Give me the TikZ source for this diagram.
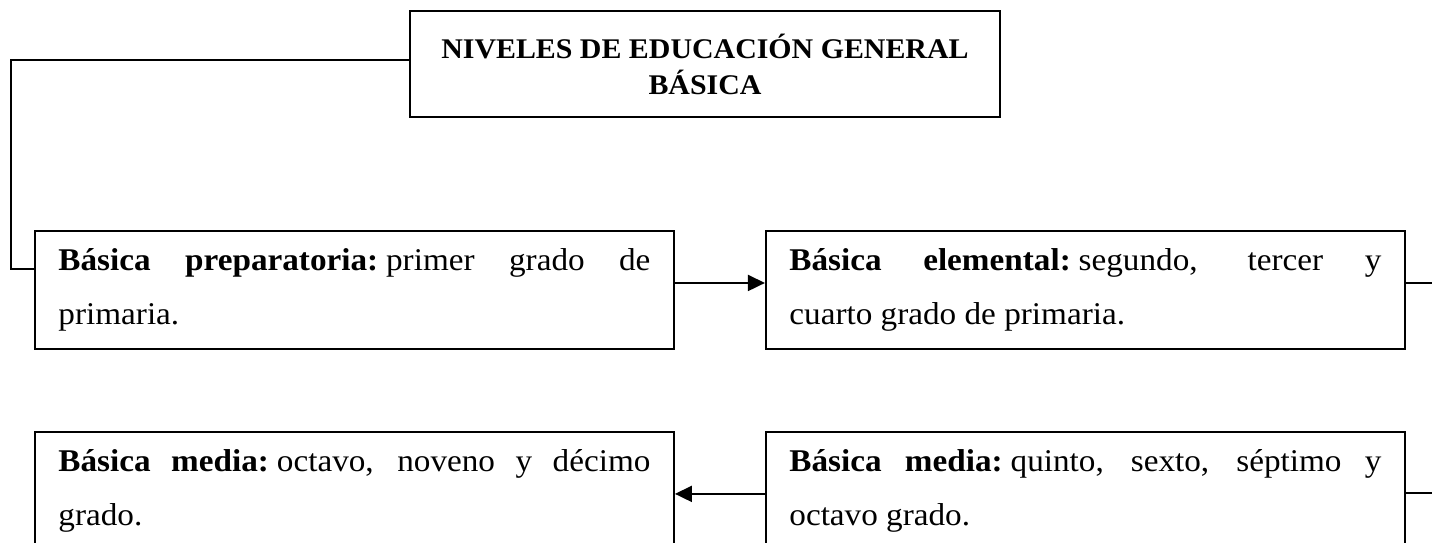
\documentclass[tikz,border=0pt]{standalone}
\usepackage{fontspec}
\setmainfont{Liberation Serif}[FakeStretch=1.05]
\usepackage{tikz}
\usetikzlibrary{arrows.meta, positioning}
\tolerance=10000
\hbadness=10000
\tikzstyle{title} = [rectangle, minimum width=11.8cm, minimum height=2.12cm, align=center, draw=black, line width=1.1pt, font=\fontsize{16.2pt}{20.5pt}\selectfont\bfseries]
\tikzstyle{level} = [rectangle, text width=11.84cm, inner xsep=0.47cm, minimum height=2.36cm, align=justify, draw=black, line width=1.1pt, font=\fontsize{18pt}{30.7pt}\selectfont]
\tikzstyle{line} = [line width=1.1pt]
\tikzstyle{arrow} = [line width=1.1pt,-{Triangle[length=0.34cm,width=0.32cm]}]

\begin{document}
\begin{tikzpicture}[node distance=1.8cm]
			\useasboundingbox (0,0) rectangle (28.64,-10.86);
			
			\node (niveles) [title] at (14.1,-1.28) {NIVELES DE EDUCACIÓN GENERAL\\BÁSICA};
			
			\node (preparatoria) [level, anchor=north west] at (0.68,-4.6) {\textbf{Básica preparatoria:}\hspace{0.25em}primer grado de\linebreak primaria.};
			
			\node (elemental) [level, right=of preparatoria] {\textbf{Básica elemental:}\hspace{0.25em}segundo, tercer y\linebreak cuarto grado de primaria.};
			
			\node (media_quinto) [level, below=1.62cm of elemental] {\textbf{Básica media:}\hspace{0.25em}quinto, sexto, séptimo y\linebreak octavo grado.};
			
			\node (media_octavo) [level, below=1.62cm of preparatoria] {\textbf{Básica media:}\hspace{0.25em}octavo, noveno y décimo\linebreak grado.};
			
			
			\draw [line] ([yshift=0.08cm]niveles.west) -| ([xshift=-0.46cm,yshift=0.42cm]preparatoria.west) -- ([yshift=0.42cm]preparatoria.west);
			\draw [arrow] ([yshift=0.14cm]preparatoria.east) -- ([yshift=0.14cm]elemental.west);
			\draw [line] ([yshift=0.14cm]elemental.east) -- ++(1,0) |- ([yshift=-0.04cm]media_quinto.east);
			\draw [arrow] ([yshift=-0.06cm]media_quinto.west) -- ([yshift=-0.06cm]media_octavo.east);
			
			
		\end{tikzpicture}
\end{document}
